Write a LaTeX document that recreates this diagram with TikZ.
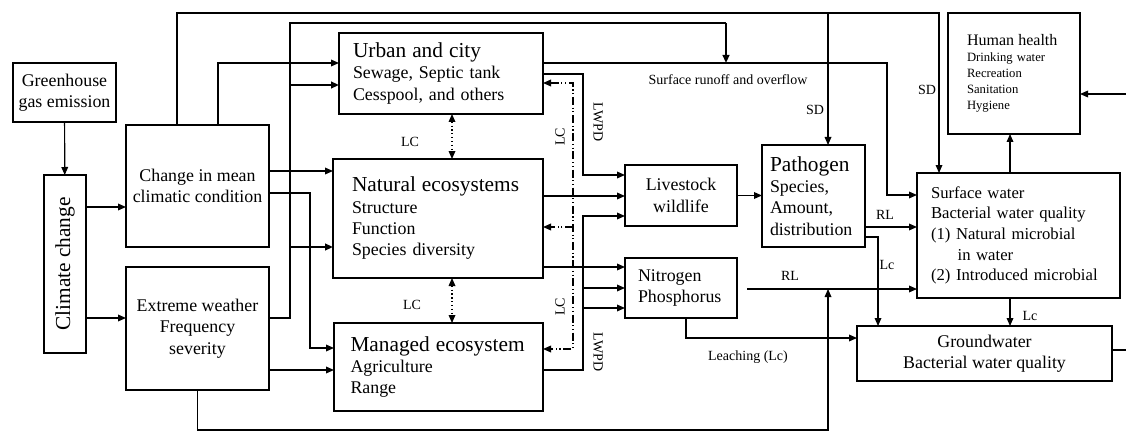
\documentclass[tikz,border=0pt]{standalone}
\usepackage{fontspec}
\setmainfont{Liberation Serif}
\usetikzlibrary{arrows.meta}
\usetikzlibrary{positioning}
\newcommand{\bigfnt}{\fontsize{16}{19}\selectfont}
\newcommand{\midfnt}{\fontsize{13.4}{16}\selectfont}
\newcommand{\swfnt}{\fontsize{12.5}{15.5}\selectfont}
\newcommand{\smlfnt}{\fontsize{9.5}{12}\selectfont}
\newcommand{\lblfnt}{\fontsize{10.5}{12}\selectfont}
\tikzset{>={Triangle[length=6pt,width=5pt]}}
\tikzset{blk/.style = {draw, inner sep=0pt, outer sep=0pt}}
\tikzset{sz/.style 2 args = {minimum width=#1*0.75pt, minimum height=#2*0.75pt}}
\tikzset{thk/.style = {line width=1.6pt}}
\tikzset{lcl/.style = {dash pattern=on 6pt off 2pt on 0.8pt off 2pt on 0.8pt off 2pt}}
\tikzset{lbl/.style = {font=\lblfnt, inner sep=1pt}}

\begin{document}
\begin{tikzpicture}[x=0.75pt, y=-0.75pt, line width=0.9pt, font=\midfnt]
    \useasboundingbox (0,0) rectangle (1126,431);
    % boxes
    \node[blk, sz={103}{59}, align=center] (green) at (64.5,92.5) {Greenhouse\\gas emission};
    \node[blk, line width=2pt, rotate=90, sz={178}{42}, font=\bigfnt] (climate) at (65,264) {Climate change};
    \node[blk, sz={143}{122}, align=center] (change) at (197.5,186) {Change in mean\\climatic condition};
    \node[blk, sz={143}{123}, align=center] (extreme) at (197.5,328.5) {Extreme weather\\Frequency\\severity};
    \node[blk, sz={204}{81}, text width=132pt, align=left] (urban) at (441,73.5)
        {{\bigfnt Urban and city}\\Sewage, Septic tank\\Cesspool, and others};
    \node[blk, sz={210}{119}, text width=129pt, align=left] (natural) at (438,218.5)
        {{\bigfnt Natural ecosystems}\\Structure\\Function\\Species diversity};
    \node[blk, sz={209}{88}, text width=132pt, align=left] (managed) at (438.5,367)
        {{\bigfnt Managed ecosystem}\\Agriculture\\Range};
    \node[blk, sz={112}{61}, align=center] (livestock) at (681,195.5) {Livestock\\wildlife};
    \node[blk, sz={112}{60}, text width=64.5pt, align=left] (nitrogen) at (681,288) {Nitrogen\\Phosphorus};
    \node[blk, sz={103}{102}, text width=65.25pt, align=left] (pathogen) at (813.5,196)
        {{\bigfnt Pathogen}\\Species,\\Amount,\\distribution};
    \node[blk, sz={203}{125}, text width=131.25pt, align=left, font=\swfnt] (surface) at (1018.5,235.5)
        {Surface water\\Bacterial water quality\\(1) Natural microbial\\\hspace*{20pt}in water\\(2) Introduced microbial};
    \node[blk, sz={255}{55}, align=center] (ground) at (984.5,353.5) {Groundwater\\Bacterial water quality};
    \node[blk, sz={132}{121}, text width=70.5pt, align=left, font=\smlfnt] (human) at (1014,73.5)
        {{\fontsize{12}{14}\selectfont Human health}\\Drinking water\\Recreation\\Sanitation\\Hygiene};
    \coordinate (mrg) at (726,63);
    \coordinate (rlm) at (828,289);
    \coordinate (gout) at (1126,350);
    \coordinate (hin) at (1126,94);

    % climate drivers
    \draw[->] (green) -- (climate);
    \draw[->] (climate.south |- 0,207) -- (change.west |- 0,207);
    \draw[->] (climate.south |- 0,318) -- (extreme.west |- 0,318);
    \draw[->] (change.north -| 177,0) -- (177,13) -| (surface.north -| 939,0);
    \draw[->] (828,13) -- (pathogen.north -| 828,0);
    \draw[->] (change.north -| 218,0) |- (urban.west |- 0,63);
    \draw[->] (change.east |- 0,171) -- (natural.west |- 0,171);
    \draw[->] (change.east |- 0,193) -- (310,193) |- (managed.west |- 0,348);
    \draw[->] (extreme.east |- 0,370) -- (managed.west |- 0,370);
    \draw[thk] (extreme.east |- 0,318) -- (290,318) -- (290,23) -- (726,23);
    \draw[thk,->] (726,23) -- (mrg);
    \draw[thk,->] (290,85) -- (urban.west |- 0,85);
    \draw[thk,->] (290,247) -- (natural.west |- 0,247);
    \draw[->] (extreme.south) -- (197.5,430) -| (rlm);

    % land cover
    \draw[<->, dotted] (urban.south -| 452,0) -- (natural.north -| 452,0);
    \draw[<->, dotted] (natural.south -| 452,0) -- (managed.north -| 452,0);
    \draw[<->, lcl] (urban.east |- 0,83) -- (573,83) -- (573,349) -- (managed.east |- 0,349);
    \draw[->, lcl] (573,227) -- (natural.east |- 0,227);

    % to livestock and nutrients
    \draw[->] (urban.east |- 0,74) -- (583,74) |- (livestock.west |- 0,175);
    \draw[->] (managed.east |- 0,370) -- (583,370) |- (livestock.west |- 0,216);
    \draw[->] (583,288) -- (nitrogen.west |- 0,288);
    \draw[->] (583,308) -- (nitrogen.west |- 0,308);
    \draw[->] (natural.east |- 0,196) -- (livestock.west |- 0,196);
    \draw[->] (natural.east |- 0,267) -- (nitrogen.west |- 0,267);
    \draw[->] (livestock.east) -- (pathogen.west |- livestock.east);

    % to water
    \draw[->] (urban.east |- 0,63) -- (887,63) |- (surface.west |- 0,195);
    \draw[->] (pathogen.east |- 0,227) -- (surface.west |- 0,227);
    \draw[->] (pathogen.east |- 0,237) -- (878,237) -- (ground.north -| 878,0);
    \draw[->, shorten <=7.5pt] (nitrogen.east |- rlm) -- (surface.west |- rlm);
    \draw[->] (nitrogen.south -| 686,0) |- (ground.west |- 0,338);
    \draw[->] (surface.south -| 1010,0) -- (ground.north -| 1010,0);
    \draw[->] (surface.north -| 1010,0) -- (human.south -| 1010,0);
    \draw (ground.east |- gout) -- (gout);
    \draw[->] (hin) -- (human.east |- hin);

    % labels
    \node[lbl] (lc1) at (410,142) {LC};
    \node[lbl] (lc2) at (412,305) {LC};
    \node[lbl, rotate=90] (lc3) at (560,137) {LC};
    \node[lbl, rotate=90] (lc4) at (560,307) {LC};
    \node[lbl, rotate=-90] (lw1) at (598,122) {LWPD};
    \node[lbl, rotate=-90] (lw2) at (598,352) {LWPD};
    \node[lbl] (sro) at (728,80) {Surface runoff and overflow};
    \node[lbl] (sd1) at (815,110) {SD};
    \node[lbl] (sd2) at (927,90) {SD};
    \node[lbl] (rl1) at (885,215) {RL};
    \node[lbl] (rl2) at (790,276) {RL};
    \node[lbl] (lc5) at (887,265) {Lc};
    \node[lbl] (lc6) at (1030,316) {Lc};
    \node[lbl] (lch) at (748,357) {Leaching (Lc)};
\end{tikzpicture}
\end{document}
